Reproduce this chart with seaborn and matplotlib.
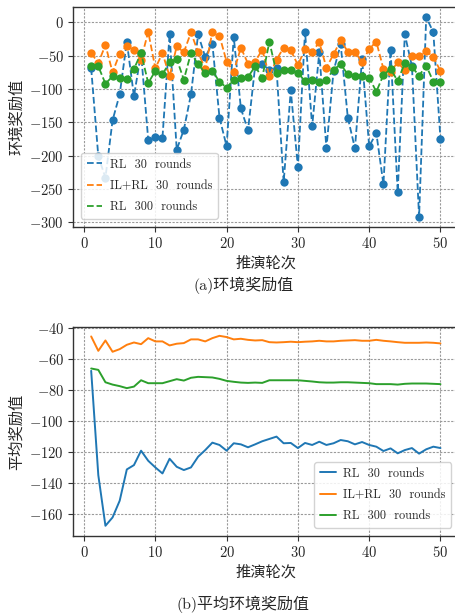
import numpy as np
import pandas as pd
import matplotlib
matplotlib.use('Agg')
import matplotlib.pyplot as plt
import seaborn as sns

# ---- data ----
rounds = list(range(1, 51))

# (a) environment reward per round
rl30 = [-69, -201, -233, -147, -108, -29, -111, -46, -176, -172,
        -173, -18, -191, -161, -108, -18, -52, -32, -143, -186,
        -22, -129, -162, -66, -62, -72, -69, -240, -102, -217,
        -14, -156, -45, -189, -73, -33, -143, -189, -55, -186,
        -166, -243, -41, -255, -18, -66, -292, 8, -15, -175]
ilrl30 = [-46, -61, -34, -75, -47, -35, -41, -56, -14, -69,
          -46, -81, -36, -45, -15, -45, -70, -14, -20, -59,
          -74, -38, -62, -59, -41, -81, -56, -38, -42, -64,
          -40, -44, -30, -68, -48, -27, -44, -44, -60, -40,
          -29, -70, -74, -60, -72, -50, -51, -43, -52, -73]
rl300 = [-65, -66, -92, -81, -83, -85, -70, -46, -91, -73,
         -78, -60, -55, -86, -46, -63, -76, -73, -89, -98,
         -86, -84, -82, -66, -83, -29, -76, -72, -71, -76,
         -88, -87, -89, -86, -71, -63, -78, -81, -81, -83,
         -104, -79, -70, -88, -61, -67, -80, -65, -89, -89]

# (b) average environment reward
rl30_avg = [-67.6, -135.0, -167.7, -162.3, -151.5, -131.3, -128.5, -119.2, -125.7, -130.0,
            -133.9, -124.4, -129.6, -131.7, -130.0, -123.1, -118.8, -114.0, -115.5, -119.2,
            -114.4, -115.1, -117.0, -115.1, -113.1, -111.6, -110.1, -114.4, -114.2, -117.5,
            -114.2, -115.5, -113.4, -115.5, -114.4, -112.3, -113.1, -115.1, -113.6, -115.5,
            -116.6, -119.4, -117.7, -120.9, -118.8, -117.5, -121.1, -118.3, -116.6, -117.5]
ilrl30_avg = [-45.4, -54.7, -48.0, -55.3, -53.6, -50.8, -49.3, -50.4, -46.5, -48.6,
              -48.6, -51.2, -50.1, -49.7, -47.3, -47.3, -48.6, -46.5, -45.0, -45.8,
              -47.3, -46.9, -47.6, -48.0, -47.8, -49.1, -49.3, -49.1, -48.8, -49.1,
              -48.8, -48.6, -48.2, -48.6, -48.6, -48.2, -48.0, -47.8, -48.2, -48.2,
              -47.6, -48.2, -48.6, -49.1, -49.5, -49.5, -49.5, -49.3, -49.5, -49.9]
rl300_avg = [-66.1, -67.0, -75.0, -76.5, -77.5, -78.8, -77.8, -73.7, -75.6, -75.6,
             -75.6, -74.3, -73.0, -73.9, -72.1, -71.5, -71.7, -71.9, -72.8, -74.1,
             -74.7, -75.2, -75.4, -75.2, -75.4, -73.7, -73.7, -73.7, -73.7, -73.7,
             -74.1, -74.5, -75.0, -75.2, -75.2, -75.0, -75.0, -75.2, -75.4, -75.6,
             -76.2, -76.2, -76.2, -76.5, -76.0, -75.8, -75.8, -75.8, -76.0, -76.2]

labels = ['RL  30  rounds', 'IL+RL  30  rounds', 'RL  300  rounds']
colors = ['#1f77b4', '#ff7f0e', '#2ca02c']

# ---- style ----
sns.set_theme(style='whitegrid')
plt.rcParams['font.family'] = ['cmr10', 'Noto Sans CJK SC']
plt.rcParams['mathtext.fontset'] = 'cm'
plt.rcParams['axes.formatter.use_mathtext'] = True
plt.rcParams['axes.unicode_minus'] = True

W, H = 455, 614
fig = plt.figure(figsize=(W / 100, H / 100), dpi=100)


def box(l, t, r, b):
    return [l / W, 1 - b / H, (r - l) / W, (b - t) / H]


def style_axes(ax):
    ax.grid(True, linestyle=(0, (2, 1.3)), color='#9a9a9a', linewidth=0.8)
    for s in ax.spines.values():
        s.set_color('#333333')
        s.set_linewidth(1.0)
    ax.tick_params(axis='both', which='major', length=3.5, width=0.8,
                   color='#333333', labelsize=10.5, pad=3, bottom=True, left=True)
    ax.set_xticks([0, 10, 20, 30, 40, 50])


leg_kw = dict(fontsize=8.8, frameon=True, handlelength=1.3, handletextpad=0.6,
              borderpad=0.45, labelspacing=0.75, framealpha=0.85)

# ---- (a) ----
ax1 = fig.add_axes(box(73, 7, 459, 227))
for vals, lab, c in zip([rl30, ilrl30, rl300], labels, colors):
    sns.lineplot(x=rounds, y=vals, ax=ax1, color=c, label=lab,
                 linestyle='--', linewidth=1.3, marker='o', markersize=6,
                 markeredgewidth=0)
style_axes(ax1)
ax1.set_xlim(-1.55, 52.6)
ax1.set_ylim(-307, 23)
ax1.set_yticks([0, -50, -100, -150, -200, -250, -300])
ax1.set_xlabel('推演轮次', fontsize=11, labelpad=4)
ax1.set_ylabel('环境奖励值', fontsize=11, labelpad=4)
leg1 = ax1.legend(loc='lower left', bbox_to_anchor=(0.005, 0.01), **leg_kw)
leg1.get_frame().set_edgecolor('#cccccc')
for line in leg1.get_lines():
    line.set_marker('')
fig.text(0.535, 1 - 290 / H, '(a)环境奖励值', ha='center', fontsize=11.5)

# ---- (b) ----
ax2 = fig.add_axes(box(73, 327, 459, 536))
for vals, lab, c in zip([rl30_avg, ilrl30_avg, rl300_avg], labels, colors):
    sns.lineplot(x=rounds, y=vals, ax=ax2, color=c, label=lab, linewidth=1.4)
style_axes(ax2)
ax2.set_xlim(-1.55, 52.6)
ax2.set_ylim(-174.3, -39.3)
ax2.set_yticks([-40, -60, -80, -100, -120, -140, -160])
ax2.set_xlabel('推演轮次', fontsize=11, labelpad=4)
ax2.set_ylabel('平均奖励值', fontsize=11, labelpad=4)
leg2 = ax2.legend(loc='lower right', bbox_to_anchor=(0.995, 0.01), **leg_kw)
leg2.get_frame().set_edgecolor('#cccccc')
fig.text(0.535, 1 - 609 / H, '(b)平均环境奖励值', ha='center', fontsize=11.5)

fig.savefig('out.png', dpi=100)
